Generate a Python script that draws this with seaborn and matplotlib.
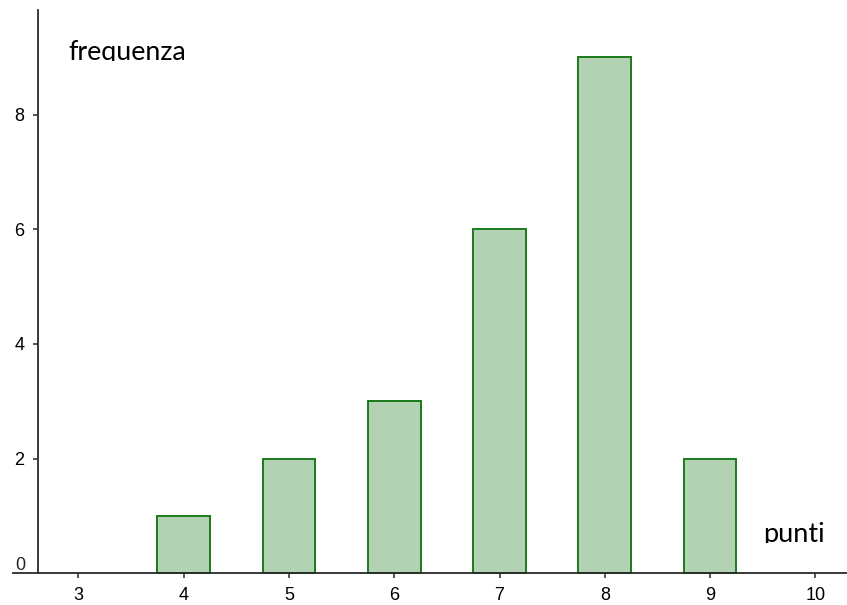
import matplotlib
matplotlib.use("Agg")
import matplotlib.pyplot as plt
from matplotlib.patches import Rectangle
import seaborn as sns

# data
punti = [4, 5, 6, 7, 8, 9]
frequenza = [1, 2, 3, 6, 9, 2]
x_ticks = [3, 4, 5, 6, 7, 8, 9, 10]
y_ticks = [2, 4, 6, 8]

sns.set_style("white")
plt.rcParams['font.family'] = ['Liberation Sans', 'DejaVu Sans']

fig = plt.figure(figsize=(8.47, 6.05), dpi=100)
ax = fig.add_axes([0, 0, 1, 1])

sns.barplot(x=punti, y=frequenza, native_scale=True, width=0.5,
            color='#b3d1b3', saturation=1, edgecolor='#1b7a1b',
            linewidth=1.4, ax=ax)

ax.set_xlim(2.256, 10.30)
ax.set_ylim(-0.553, 10.0)

axis_col = '#2a2a2a'
for s in ['top', 'right']:
    ax.spines[s].set_visible(False)
ax.spines['left'].set_position(('data', 2.62))
ax.spines['left'].set_bounds(0, 9.83)
ax.spines['bottom'].set_position(('data', 0))
ax.spines['bottom'].set_bounds(2.38, 10.30)
for s in ['left', 'bottom']:
    ax.spines[s].set_color(axis_col)
    ax.spines[s].set_linewidth(1.3)

ax.set_xticks(x_ticks)
ax.set_yticks(y_ticks)
ax.set_xticklabels([str(v) for v in x_ticks])
ax.set_yticklabels([str(v) for v in y_ticks])
ax.tick_params(axis='x', direction='out', length=3.5, width=1.1, color=axis_col,
               labelsize=13, pad=6.5, labelcolor='black', bottom=True)
ax.tick_params(axis='y', direction='out', length=3.5, width=1.1, color=axis_col,
               labelsize=13, pad=6.5, labelcolor='black', left=True)
ax.set_xlabel('')
ax.set_ylabel('')

# zero at the origin
ax.text(2.62 - 13 / 105.3, -0.02, '0', fontsize=13, ha='right', va='bottom')

# axis names; the bottom of the letters is cut off like in the picture
def cut_label(txt, x_px, base_px, cut_px, size):
    fig.text(x_px / 847, 1 - base_px / 605, txt, fontsize=size, color='black',
             family=['Lato', 'DejaVu Sans'], ha='left', va='baseline', zorder=3)
    # white strip over the descenders (pixel coords, origin bottom-left)
    fig.patches.append(Rectangle((x_px - 3, 605 - cut_px - 14), 150, 14,
                                 transform=None, facecolor='white',
                                 edgecolor='none', zorder=4))

cut_label('frequenza', 68, 60, 61, 19.3)
cut_label('punti', 763, 542, 543, 19.5)

fig.savefig('out.png', dpi=100)
